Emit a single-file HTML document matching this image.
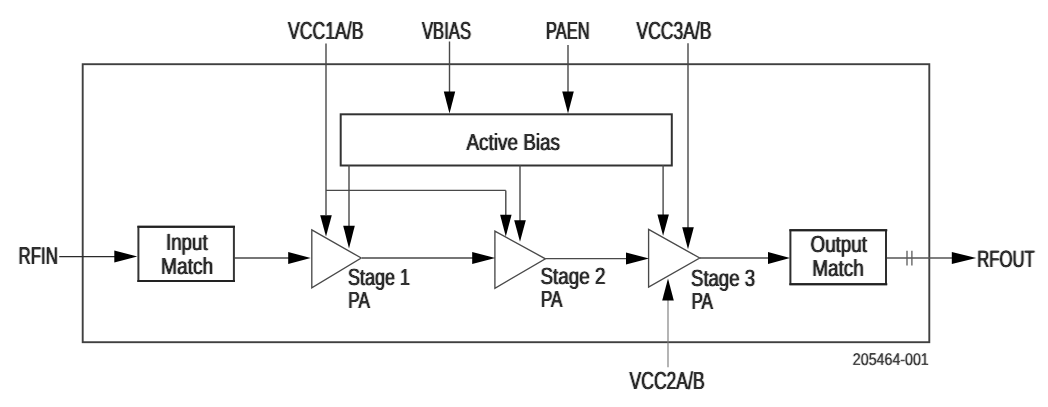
<!DOCTYPE html>
<html lang="en">
<head>
<meta charset="utf-8">
<title>Block Diagram</title>
<style>
html,body{margin:0;padding:0;background:#fff;}
body{width:1048px;height:407px;overflow:hidden;}
svg{display:block;}
svg text{font-family:"Liberation Sans","DejaVu Sans",sans-serif;text-rendering:geometricPrecision;}
</style>
</head>
<body>
<svg width="1048" height="407" viewBox="0 0 1048 407">
<defs>
<filter id="soft" x="0" y="0" width="1048" height="407" filterUnits="userSpaceOnUse"><feGaussianBlur stdDeviation="0.55"/></filter>
<filter id="sm" x="0" y="0" width="1048" height="407" filterUnits="userSpaceOnUse"><feConvolveMatrix order="3 1" kernelMatrix="0.22 1 0.22" divisor="1" edgeMode="none" preserveAlpha="false"/><feGaussianBlur stdDeviation="0.55"/></filter>
<filter id="tf" x="0" y="0" width="1048" height="407" filterUnits="userSpaceOnUse"><feConvolveMatrix order="3 1" kernelMatrix="0.34 1 0.34" divisor="1" edgeMode="none" preserveAlpha="false"/><feGaussianBlur stdDeviation="0.55"/></filter>
</defs>
<rect x="0" y="0" width="1048" height="407" fill="#ffffff"/>
<g filter="url(#soft)">
<rect x="0" y="0" width="1048" height="407" fill="#ffffff"/>
<rect x="82.7" y="64.2" width="846.6" height="278.0" fill="none" stroke="#404040" stroke-width="1.90"/>
<line x1="326.0" y1="43.6" x2="326.0" y2="215.0" stroke="#484848" stroke-width="1.40"/>
<line x1="326.0" y1="190.4" x2="505.8" y2="190.4" stroke="#484848" stroke-width="1.40"/>
<line x1="505.8" y1="190.4" x2="505.8" y2="215.0" stroke="#484848" stroke-width="1.40"/>
<line x1="449.5" y1="41.5" x2="449.5" y2="92.0" stroke="#484848" stroke-width="1.40"/>
<line x1="568.0" y1="45.0" x2="568.0" y2="92.0" stroke="#484848" stroke-width="1.40"/>
<line x1="688.0" y1="43.2" x2="688.0" y2="229.0" stroke="#484848" stroke-width="1.40"/>
<rect x="340.7" y="114.3" width="331.1" height="51.2" fill="none" stroke="#333" stroke-width="2.00"/>
<line x1="349.0" y1="165.0" x2="349.0" y2="226.0" stroke="#484848" stroke-width="1.40"/>
<line x1="520.0" y1="165.0" x2="520.0" y2="221.0" stroke="#484848" stroke-width="1.40"/>
<line x1="663.1" y1="165.0" x2="663.1" y2="215.0" stroke="#484848" stroke-width="1.40"/>
<line x1="668.0" y1="298.0" x2="668.0" y2="367.3" stroke="#777" stroke-width="1.10"/>
<line x1="59.2" y1="256.6" x2="116.0" y2="256.6" stroke="#2a2a2a" stroke-width="1.40"/>
<line x1="234.5" y1="258.0" x2="290.0" y2="258.0" stroke="#484848" stroke-width="1.40"/>
<line x1="362.0" y1="258.0" x2="474.0" y2="258.0" stroke="#484848" stroke-width="1.40"/>
<line x1="545.4" y1="258.6" x2="627.0" y2="258.6" stroke="#484848" stroke-width="1.40"/>
<line x1="700.0" y1="258.0" x2="770.0" y2="258.0" stroke="#484848" stroke-width="1.40"/>
<line x1="887.0" y1="258.0" x2="953.0" y2="258.0" stroke="#555" stroke-width="1.40"/>
<line x1="907.0" y1="250.8" x2="907.0" y2="265.6" stroke="#5a5a5a" stroke-width="1.30"/>
<line x1="911.9" y1="250.8" x2="911.9" y2="265.6" stroke="#5a5a5a" stroke-width="1.30"/>
<rect x="138.4" y="226.8" width="95.5" height="54.2" fill="none" stroke="#363636" stroke-width="2.00"/>
<line x1="137.4" y1="226.8" x2="234.9" y2="226.8" stroke="#202020" stroke-width="2.10"/>
<line x1="137.4" y1="281.0" x2="234.9" y2="281.0" stroke="#202020" stroke-width="2.10"/>
<rect x="790.4" y="230.2" width="95.6" height="54.0" fill="none" stroke="#2e2e2e" stroke-width="2.00"/>
<line x1="789.4" y1="230.2" x2="887.3" y2="230.2" stroke="#202020" stroke-width="2.10"/>
<line x1="789.4" y1="284.2" x2="887.3" y2="284.2" stroke="#202020" stroke-width="2.10"/>
<polygon points="311.8,229.9 361.2,258.0 311.8,287.9" fill="#fff" stroke="#4a4a4a" stroke-width="1.35" stroke-linejoin="miter"/>
<polygon points="494.9,231.1 545.4,258.8 494.9,288.3" fill="#fff" stroke="#4a4a4a" stroke-width="1.35" stroke-linejoin="miter"/>
<polygon points="648.6,229.3 699.7,258.0 648.6,287.2" fill="#fff" stroke="#4a4a4a" stroke-width="1.35" stroke-linejoin="miter"/>
<polygon points="449.5,113.6 443.8,91.6 455.2,91.6" fill="#000"/>
<polygon points="568.0,113.6 562.2,91.6 573.8,91.6" fill="#000"/>
<polygon points="326.0,236.4 320.2,215.2 331.8,215.2" fill="#000"/>
<polygon points="349.0,248.6 343.2,225.8 354.8,225.8" fill="#000"/>
<polygon points="505.8,236.6 500.1,214.8 511.6,214.8" fill="#000"/>
<polygon points="520.0,241.8 514.2,220.3 525.8,220.3" fill="#000"/>
<polygon points="663.1,235.8 657.4,214.6 668.9,214.6" fill="#000"/>
<polygon points="688.0,249.2 682.2,227.2 693.8,227.2" fill="#000"/>
<polygon points="668.0,278.5 662.2,300.5 673.8,300.5" fill="#000"/>
<polygon points="137.3,256.5 114.3,250.4 114.3,262.6" fill="#000"/>
<polygon points="310.7,258.0 288.2,252.1 288.2,263.9" fill="#000"/>
<polygon points="495.2,258.0 472.2,252.1 472.2,263.9" fill="#000"/>
<polygon points="649.0,258.5 626.0,252.6 626.0,264.4" fill="#000"/>
<polygon points="790.0,258.0 768.0,252.1 768.0,263.9" fill="#000"/>
<polygon points="976.3,258.0 951.8,252.0 951.8,264.0" fill="#000"/>
</g>
<g filter="url(#tf)">
<text x="288.0" y="39.4" font-size="24.6" textLength="75.5" lengthAdjust="spacingAndGlyphs" fill="#262626" stroke="#262626" stroke-width="0.00">VCC1A/B</text>
<text x="422.0" y="39.4" font-size="24.6" textLength="49.0" lengthAdjust="spacingAndGlyphs" fill="#262626" stroke="#262626" stroke-width="0.00">VBIAS</text>
<text x="546.0" y="39.4" font-size="24.6" textLength="43.5" lengthAdjust="spacingAndGlyphs" fill="#262626" stroke="#262626" stroke-width="0.00">PAEN</text>
<text x="636.5" y="39.4" font-size="24.6" textLength="75.0" lengthAdjust="spacingAndGlyphs" fill="#262626" stroke="#262626" stroke-width="0.00">VCC3A/B</text>
<text x="629.6" y="389.4" font-size="24.6" textLength="75.0" lengthAdjust="spacingAndGlyphs" fill="#262626" stroke="#262626" stroke-width="0.00">VCC2A/B</text>
<text x="18.6" y="263.7" font-size="24.2" textLength="39.3" lengthAdjust="spacingAndGlyphs" fill="#262626" stroke="#262626" stroke-width="0.00">RFIN</text>
<text x="977.3" y="266.6" font-size="23.8" textLength="57.5" lengthAdjust="spacingAndGlyphs" fill="#262626" stroke="#262626" stroke-width="0.00">RFOUT</text>
<text x="466.5" y="149.7" font-size="23.4" textLength="93.5" lengthAdjust="spacingAndGlyphs" fill="#262626" stroke="#262626" stroke-width="0.00">Active Bias</text>
<text x="166.0" y="250.3" font-size="23.4" textLength="41.6" lengthAdjust="spacingAndGlyphs" fill="#262626" stroke="#262626" stroke-width="0.00">Input</text>
<text x="161.0" y="274.1" font-size="23.4" textLength="52.2" lengthAdjust="spacingAndGlyphs" fill="#262626" stroke="#262626" stroke-width="0.00">Match</text>
<text x="810.5" y="252.2" font-size="23.4" textLength="56.5" lengthAdjust="spacingAndGlyphs" fill="#262626" stroke="#262626" stroke-width="0.00">Output</text>
<text x="812.2" y="275.8" font-size="23.4" textLength="51.5" lengthAdjust="spacingAndGlyphs" fill="#262626" stroke="#262626" stroke-width="0.00">Match</text>
<text x="348.0" y="284.6" font-size="23.4" textLength="62.0" lengthAdjust="spacingAndGlyphs" fill="#262626" stroke="#262626" stroke-width="0.00">Stage 1</text>
<text x="348.3" y="308.0" font-size="23.4" textLength="21.5" lengthAdjust="spacingAndGlyphs" fill="#262626" stroke="#262626" stroke-width="0.00">PA</text>
<text x="540.5" y="284.0" font-size="23.4" textLength="65.0" lengthAdjust="spacingAndGlyphs" fill="#262626" stroke="#262626" stroke-width="0.00">Stage 2</text>
<text x="541.0" y="307.4" font-size="23.4" textLength="21.5" lengthAdjust="spacingAndGlyphs" fill="#262626" stroke="#262626" stroke-width="0.00">PA</text>
<text x="691.0" y="286.1" font-size="23.4" textLength="64.0" lengthAdjust="spacingAndGlyphs" fill="#262626" stroke="#262626" stroke-width="0.00">Stage 3</text>
<text x="691.5" y="309.0" font-size="23.4" textLength="21.5" lengthAdjust="spacingAndGlyphs" fill="#262626" stroke="#262626" stroke-width="0.00">PA</text>
</g>
<g filter="url(#sm)">
<text x="852.8" y="365.0" font-size="17.0" textLength="76.0" lengthAdjust="spacingAndGlyphs" fill="#3c3c3c" stroke="#3c3c3c" stroke-width="0.00">205464-001</text>
</g>
</svg>
</body>
</html>
